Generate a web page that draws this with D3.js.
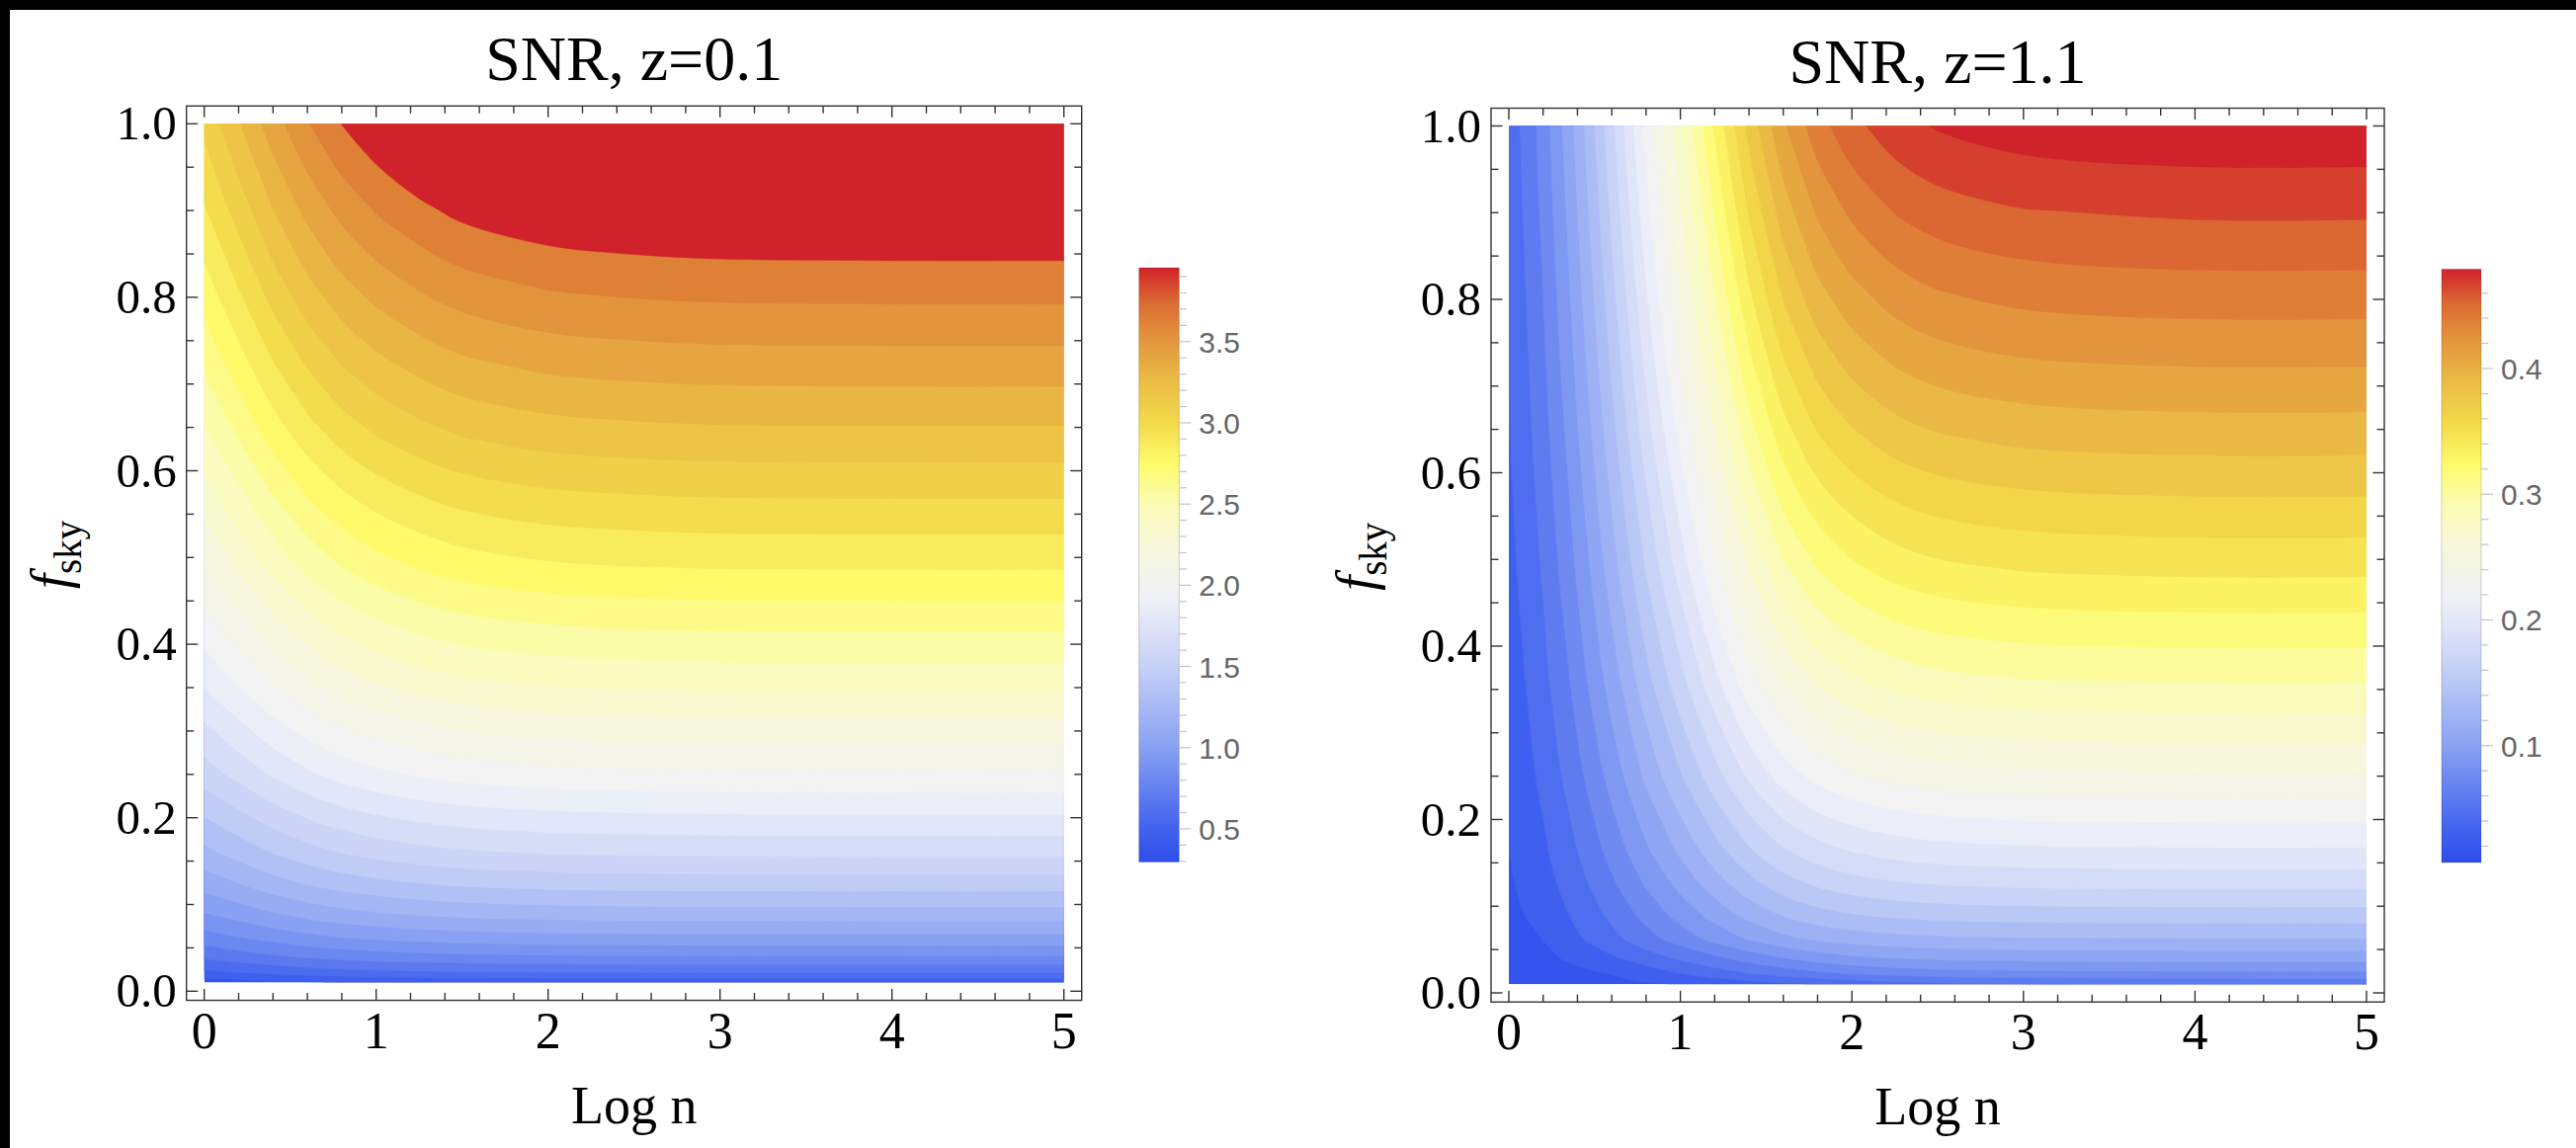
<!DOCTYPE html>
<html>
<head>
<meta charset="utf-8">
<script src="https://cdn.jsdelivr.net/npm/d3@7"></script>
<style>
  body { margin: 0; background: #fff; }
  svg { display: block; }
</style>
</head>
<body>
<div id="chart"></div>
<script>
// grid: columns = Log n, rows = f_sky (ascending)
var fskyGrid = [0.01, 0.0225, 0.04, 0.0625, 0.09, 0.1225, 0.16, 0.25, 0.36, 0.49, 0.64, 0.7225, 0.81, 0.9025, 1.0];

var logNLeft = [0, 0.2, 0.4, 0.6, 0.8, 1.0, 1.25, 1.5, 2.0, 2.5, 3.0, 4.0, 5.0];
var snrLeft = [
  0.301, 0.318, 0.336, 0.351, 0.363, 0.372, 0.380, 0.386, 0.392, 0.394, 0.395, 0.396, 0.396,
  0.451, 0.478, 0.504, 0.527, 0.545, 0.558, 0.570, 0.578, 0.587, 0.591, 0.593, 0.593, 0.593,
  0.601, 0.637, 0.672, 0.702, 0.726, 0.744, 0.759, 0.771, 0.783, 0.788, 0.790, 0.791, 0.791,
  0.752, 0.796, 0.841, 0.878, 0.908, 0.930, 0.949, 0.964, 0.979, 0.985, 0.988, 0.989, 0.989,
  0.902, 0.955, 1.009, 1.054, 1.089, 1.115, 1.139, 1.157, 1.175, 1.182, 1.185, 1.187, 1.187,
  1.052, 1.114, 1.177, 1.229, 1.271, 1.301, 1.329, 1.350, 1.370, 1.379, 1.383, 1.384, 1.384,
  1.202, 1.274, 1.345, 1.405, 1.452, 1.487, 1.519, 1.542, 1.566, 1.576, 1.580, 1.582, 1.582,
  1.503, 1.592, 1.681, 1.756, 1.816, 1.859, 1.899, 1.928, 1.958, 1.970, 1.976, 1.978, 1.978,
  1.804, 1.910, 2.017, 2.107, 2.179, 2.231, 2.278, 2.314, 2.349, 2.363, 2.371, 2.373, 2.373,
  2.104, 2.229, 2.353, 2.458, 2.542, 2.603, 2.658, 2.699, 2.741, 2.757, 2.766, 2.769, 2.769,
  2.405, 2.547, 2.690, 2.810, 2.905, 2.974, 3.038, 3.085, 3.132, 3.151, 3.161, 3.164, 3.164,
  2.555, 2.706, 2.858, 2.985, 3.086, 3.160, 3.227, 3.278, 3.328, 3.348, 3.358, 3.362, 3.362,
  2.705, 2.866, 3.026, 3.161, 3.268, 3.346, 3.417, 3.470, 3.524, 3.545, 3.556, 3.560, 3.560,
  2.856, 3.025, 3.194, 3.336, 3.449, 3.532, 3.607, 3.663, 3.719, 3.742, 3.753, 3.757, 3.757,
  3.006, 3.184, 3.362, 3.512, 3.631, 3.718, 3.797, 3.856, 3.915, 3.939, 3.951, 3.955, 3.955
];
var levelsLeft = [0.359, 0.468, 0.577, 0.686, 0.795, 0.904, 1.013, 1.122, 1.231, 1.340,
  1.449, 1.558, 1.667, 1.776, 1.885, 1.994, 2.103, 2.212, 2.321, 2.430, 2.539, 2.648,
  2.757, 2.866, 2.975, 3.084, 3.193, 3.302, 3.411, 3.520, 3.629];
var rangeLeft = [0.296, 3.955];
var barTicksLeft = [0.5, 1.0, 1.5, 2.0, 2.5, 3.0, 3.5];

var logNRight = [0, 0.1, 0.2, 0.35, 0.5, 0.65, 0.8, 1.0, 1.2, 1.4, 1.6, 1.8, 2.0, 2.25, 2.5, 3.0, 4.0, 5.0];
var snrRight = [
  0.0070, 0.0075, 0.0080, 0.0090, 0.0105, 0.0118, 0.0133, 0.0152, 0.0188, 0.0228, 0.0270, 0.0310, 0.0345, 0.0382, 0.0410, 0.0445, 0.0472, 0.0479,
  0.0075, 0.0085, 0.0095, 0.0112, 0.0132, 0.0162, 0.0213, 0.0300, 0.0378, 0.0450, 0.0512, 0.0567, 0.0612, 0.0655, 0.0683, 0.0705, 0.0716, 0.0719,
  0.0080, 0.0105, 0.0120, 0.0158, 0.0225, 0.0300, 0.0375, 0.0470, 0.0565, 0.0660, 0.0745, 0.0815, 0.0866, 0.0903, 0.0925, 0.0945, 0.0956, 0.0958,
  0.0085, 0.0112, 0.0148, 0.0245, 0.0340, 0.0437, 0.0540, 0.0668, 0.0796, 0.0916, 0.1012, 0.1078, 0.1120, 0.1153, 0.1172, 0.1189, 0.1198, 0.1198,
  0.0108, 0.0149, 0.0200, 0.0295, 0.0405, 0.0524, 0.0648, 0.0802, 0.0956, 0.1099, 0.1214, 0.1293, 0.1344, 0.1384, 0.1407, 0.1427, 0.1437, 0.1437,
  0.0126, 0.0174, 0.0233, 0.0344, 0.0473, 0.0612, 0.0756, 0.0936, 0.1115, 0.1282, 0.1417, 0.1509, 0.1568, 0.1615, 0.1641, 0.1665, 0.1677, 0.1677,
  0.0144, 0.0199, 0.0266, 0.0393, 0.0540, 0.0699, 0.0864, 0.1069, 0.1274, 0.1466, 0.1619, 0.1724, 0.1792, 0.1845, 0.1876, 0.1902, 0.1916, 0.1916,
  0.0180, 0.0249, 0.0333, 0.0491, 0.0676, 0.0874, 0.1080, 0.1337, 0.1593, 0.1832, 0.2024, 0.2156, 0.2240, 0.2307, 0.2345, 0.2378, 0.2395, 0.2395,
  0.0215, 0.0299, 0.0400, 0.0589, 0.0811, 0.1049, 0.1296, 0.1604, 0.1911, 0.2198, 0.2429, 0.2587, 0.2687, 0.2768, 0.2813, 0.2854, 0.2874, 0.2874,
  0.0251, 0.0349, 0.0466, 0.0687, 0.0946, 0.1224, 0.1512, 0.1871, 0.2230, 0.2565, 0.2834, 0.3018, 0.3135, 0.3229, 0.3282, 0.3329, 0.3353, 0.3353,
  0.0287, 0.0398, 0.0533, 0.0786, 0.1081, 0.1398, 0.1728, 0.2138, 0.2548, 0.2931, 0.3238, 0.3449, 0.3583, 0.3690, 0.3751, 0.3805, 0.3832, 0.3832,
  0.0305, 0.0423, 0.0566, 0.0835, 0.1148, 0.1486, 0.1836, 0.2272, 0.2707, 0.3114, 0.3441, 0.3664, 0.3807, 0.3921, 0.3986, 0.4043, 0.4072, 0.4072,
  0.0323, 0.0448, 0.0599, 0.0884, 0.1216, 0.1573, 0.1944, 0.2406, 0.2867, 0.3298, 0.3643, 0.3880, 0.4031, 0.4152, 0.4220, 0.4280, 0.4311, 0.4311,
  0.0341, 0.0473, 0.0633, 0.0933, 0.1283, 0.1661, 0.2052, 0.2539, 0.3026, 0.3481, 0.3846, 0.4095, 0.4255, 0.4382, 0.4455, 0.4518, 0.4551, 0.4551,
  0.0359, 0.0498, 0.0666, 0.0982, 0.1351, 0.1748, 0.2160, 0.2673, 0.3185, 0.3664, 0.4048, 0.4311, 0.4479, 0.4613, 0.4689, 0.4756, 0.4790, 0.4790
];
var levelsRight = [0.0145, 0.0296, 0.0447, 0.0598, 0.0749, 0.0900, 0.1051, 0.1202, 0.1353,
  0.1504, 0.1655, 0.1806, 0.1957, 0.2108, 0.2259, 0.2410, 0.2561, 0.2712, 0.2863, 0.3014,
  0.3165, 0.3316, 0.3467, 0.3618, 0.3769, 0.3920, 0.4071, 0.4222, 0.4373, 0.4524, 0.4675];
var rangeRight = [0.007, 0.479];
var barTicksRight = [0.1, 0.2, 0.3, 0.4];

var xTicks = [0, 1, 2, 3, 4, 5];
var yTicks = [0.0, 0.2, 0.4, 0.6, 0.8, 1.0];

// temperature-style colour ramp, sampled from the bar legends
var rampStops = [0, 0.056, 0.192, 0.329, 0.44, 0.466, 0.53, 0.602, 0.67, 0.739, 0.807, 0.875, 0.94, 1];
var rampColors = ["#2e4eec", "#4262ee", "#87a0f2", "#c6d1f7", "#eef0f8", "#f2f3f1", "#f6f7dc",
  "#fbfcb4", "#fefb6b", "#f3da4a", "#ebbd45", "#e3983d", "#dc6c33", "#d0222a"];
var ramp = d3.scaleLinear().domain(rampStops).range(rampColors).interpolate(d3.interpolateRgb);

var W = 2607, H = 1162;
var serif = "'Liberation Serif', 'Times New Roman', serif";
var sans = "'Liberation Sans', Arial, sans-serif";

var svg = d3.select("#chart").append("svg")
    .attr("width", W)
    .attr("height", H);

svg.append("rect").attr("width", W).attr("height", H).attr("fill", "#fff");
svg.append("rect").attr("width", W).attr("height", 10).attr("fill", "#000");
svg.append("rect").attr("width", 10).attr("height", H).attr("fill", "#000");

var panels = [
  { id: "l", title: "SNR, z=0.1", logN: logNLeft, values: snrLeft, levels: levelsLeft,
    range: rangeLeft, barTicks: barTicksLeft, barMinor: d3.range(3, 40).map(function(k) { return k / 10; }),
    x0: 206.7, x1: 1076.7, yZero: 1003.3, yOne: 125.3,
    bar: { x: 1152.7, w: 40.6, top: 271, bottom: 872.5 } },
  { id: "r", title: "SNR, z=1.1", logN: logNRight, values: snrRight, levels: levelsRight,
    range: rangeRight, barTicks: barTicksRight, barMinor: d3.range(1, 24).map(function(k) { return k / 50; }),
    x0: 1527, x1: 2395, yZero: 1005, yOne: 127.5,
    bar: { x: 2471, w: 40, top: 272.5, bottom: 873 } }
];

var openCurve = d3.line().curve(d3.curveCatmullRom.alpha(0.5));
var closedCurve = d3.line().curve(d3.curveCatmullRomClosed.alpha(0.5));
var pt = function(q) { return q[0] + "," + q[1]; };

// smooth only the inner vertices of a ring; vertices on the grid edge are joined straight
function ringPath(pts, edge) {
  var n = pts.length;
  var start = edge.indexOf(true);
  if (start < 0) return closedCurve(pts);
  var out = "M" + pt(pts[start]);
  var inner = [];
  for (var k = 1; k <= n; k++) {
    var i = (start + k) % n;
    if (!edge[i]) { inner.push(pts[i]); continue; }
    if (inner.length) {
      out += "L" + pt(inner[0]);
      if (inner.length > 1) out += openCurve(inner).replace(/^M[^CL]*/, "");
    }
    out += "L" + pt(pts[i]);
    inner = [];
  }
  return out + "Z";
}

panels.forEach(drawPanel);

function drawPanel(p) {
  var g = svg.append("g").attr("class", "panel");
  var x = d3.scaleLinear().domain([0, 5]).range([p.x0, p.x1]);
  var y = d3.scaleLinear().domain([0, 1]).range([p.yZero, p.yOne]);
  var pad = 18;
  var fMin = fskyGrid[0];
  var left = x(0) - pad, right = x(5) + pad, top = y(1) - pad, bottom = y(fMin) + pad;

  // contour grid coordinates -> data -> pixels (sample k sits at k + 0.5)
  var nx = p.logN.length, ny = fskyGrid.length;
  var ix = d3.scaleLinear().domain(d3.range(nx)).range(p.logN);
  var iy = d3.scaleLinear().domain(d3.range(ny)).range(fskyGrid);
  var bandPath = function(mp) {
    return mp.coordinates.map(function(poly) {
      return poly.map(function(r) {
        var c = r.slice(0, -1);
        var pts = c.map(function(q) { return [x(ix(q[0] - 0.5)), y(iy(q[1] - 0.5))]; });
        var edge = c.map(function(q) {
          return q[0] < 0.5 || q[0] > nx - 0.5 || q[1] < 0.5 || q[1] > ny - 0.5;
        });
        return ringPath(pts, edge);
      }).join("");
    }).join("");
  };

  var norm = d3.scaleLinear().domain(p.range).range([0, 1]).clamp(true);
  var bandColor = function(i) {
    var hi = i < p.levels.length ? p.levels[i] : p.range[1];
    return ramp(norm(hi));
  };

  var contours = d3.contours()
      .size([nx, ny])
      .thresholds(p.levels)(p.values);

  g.append("clipPath").attr("id", "clip-" + p.id)
    .append("rect")
      .attr("x", x(0)).attr("y", y(1))
      .attr("width", x(5) - x(0)).attr("height", y(fMin) - y(1));

  var plot = g.append("g").attr("clip-path", "url(#clip-" + p.id + ")");
  plot.append("rect")
      .attr("x", x(0)).attr("y", y(1))
      .attr("width", x(5) - x(0)).attr("height", y(fMin) - y(1))
      .attr("fill", bandColor(0));
  plot.selectAll("path.band")
    .data(contours).enter()
    .append("path")
      .attr("class", "band")
      .attr("d", bandPath)
      .attr("fill", function(d, i) { return bandColor(i + 1); })
      .attr("stroke", function(d, i) { return bandColor(i + 1); })
      .attr("stroke-width", 0.6);

  // frame with inward ticks on all four sides
  g.append("rect")
      .attr("x", left).attr("y", top)
      .attr("width", right - left).attr("height", bottom - top)
      .attr("fill", "none").attr("stroke", "#333").attr("stroke-width", 1.4);

  var ticks = g.append("g").attr("stroke", "#333").attr("stroke-width", 1.4);
  var xMinor = d3.range(0, 26).map(function(k) { return k / 5; });
  var yMinor = d3.range(0, 21).map(function(k) { return k / 20; });
  xMinor.forEach(function(t) {
    var len = (Math.abs(t - Math.round(t)) < 1e-6) ? 11.5 : 7.5;
    ticks.append("line").attr("x1", x(t)).attr("x2", x(t)).attr("y1", bottom).attr("y2", bottom - len);
    ticks.append("line").attr("x1", x(t)).attr("x2", x(t)).attr("y1", top).attr("y2", top + len);
  });
  yMinor.forEach(function(t) {
    var len = (Math.abs(t * 5 - Math.round(t * 5)) < 1e-6) ? 11.5 : 7.5;
    ticks.append("line").attr("y1", y(t)).attr("y2", y(t)).attr("x1", left).attr("x2", left + len);
    ticks.append("line").attr("y1", y(t)).attr("y2", y(t)).attr("x1", right).attr("x2", right - len);
  });

  g.selectAll("text.xt")
    .data(xTicks).enter()
    .append("text")
      .attr("class", "xt")
      .attr("x", function(d) { return x(d); })
      .attr("y", bottom + 48)
      .attr("text-anchor", "middle")
      .style("font-family", serif).style("font-size", "52px")
      .text(function(d) { return d; });

  g.selectAll("text.yt")
    .data(yTicks).enter()
    .append("text")
      .attr("class", "yt")
      .attr("x", left - 10)
      .attr("y", function(d) { return y(d) + 16; })
      .attr("text-anchor", "end")
      .style("font-family", serif).style("font-size", "49px")
      .text(function(d) { return d3.format(".1f")(d); });

  g.append("text")
      .attr("x", (x(0) + x(5)) / 2)
      .attr("y", top - 26)
      .attr("text-anchor", "middle")
      .style("font-family", serif).style("font-size", "64px")
      .text(p.title);

  g.append("text")
      .attr("x", (x(0) + x(5)) / 2)
      .attr("y", bottom + 124)
      .attr("text-anchor", "middle")
      .style("font-family", serif).style("font-size", "54px")
      .text("Log n");

  var ylab = g.append("text")
      .attr("transform", "translate(" + (left - 119.5) + "," + ((y(0) + y(1)) / 2 - 3) + ") rotate(-90)")
      .attr("text-anchor", "middle")
      .style("font-family", serif).style("font-size", "54px");
  ylab.append("tspan").style("font-style", "italic").text("f");
  ylab.append("tspan").attr("dy", 13).style("font-size", "39px").text("sky");

  // bar legend
  var b = p.bar;
  var by = d3.scaleLinear().domain(p.range).range([b.bottom, b.top]);
  var grad = svg.append("defs").append("linearGradient")
      .attr("id", "grad-" + p.id)
      .attr("x1", 0).attr("y1", 1).attr("x2", 0).attr("y2", 0);
  grad.selectAll("stop")
    .data(rampStops).enter()
    .append("stop")
      .attr("offset", function(d) { return d; })
      .attr("stop-color", function(d, i) { return rampColors[i]; });

  g.append("rect")
      .attr("x", b.x).attr("y", b.top)
      .attr("width", b.w).attr("height", b.bottom - b.top)
      .attr("fill", "url(#grad-" + p.id + ")")
      .attr("stroke", "rgba(0,0,0,0.18)").attr("stroke-width", 1);

  var bt = g.append("g").attr("stroke", "#c4c4c4").attr("stroke-width", 1.2);
  p.barMinor.forEach(function(t) {
    var major = p.barTicks.some(function(m) { return Math.abs(m - t) < 1e-6; });
    bt.append("line")
        .attr("x1", b.x + b.w).attr("x2", b.x + b.w + (major ? 12 : 7.5))
        .attr("y1", by(t)).attr("y2", by(t));
  });

  g.selectAll("text.bt")
    .data(p.barTicks).enter()
    .append("text")
      .attr("class", "bt")
      .attr("x", b.x + b.w + 20)
      .attr("y", function(d) { return by(d) + 11; })
      .style("font-family", sans).style("font-size", "30px")
      .attr("fill", "#666")
      .text(function(d) { return d3.format(".1f")(d); });
}
</script>
</body>
</html>
